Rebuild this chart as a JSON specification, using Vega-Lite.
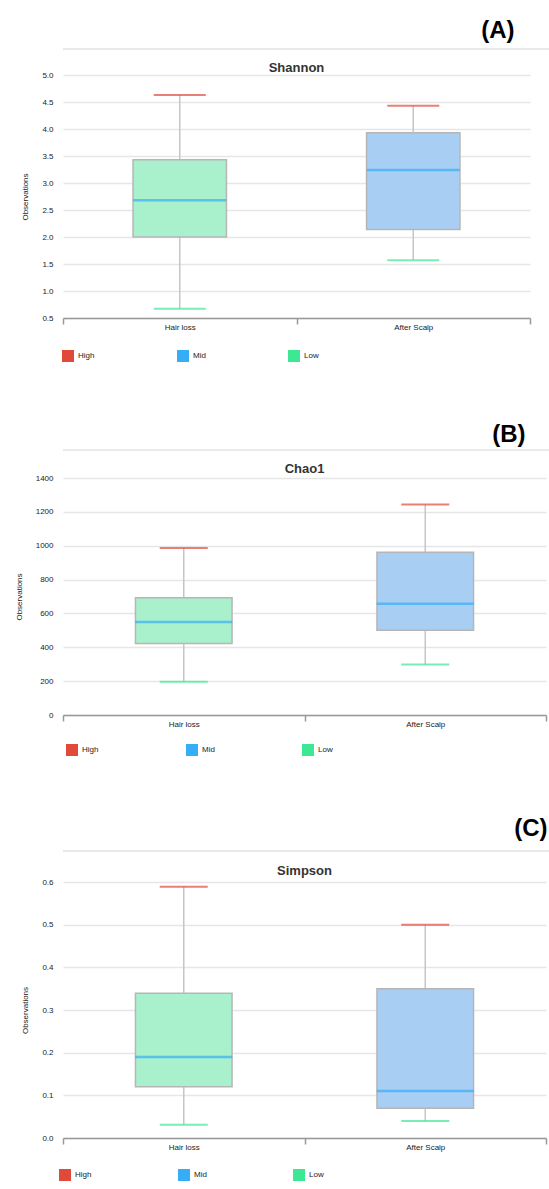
{
  "$schema": "https://vega.github.io/schema/vega-lite/v6.json",
  "background": "white",
  "padding": {"left": 15, "top": 18, "right": 0, "bottom": 0},
  "datasets": {
    "shannon": [
      {"group": "Hair loss", "min": 0.67, "q1": 2.0, "median": 2.68, "q3": 3.43, "max": 4.63},
      {"group": "After  Scalp", "min": 1.57, "q1": 2.14, "median": 3.24, "q3": 3.93, "max": 4.43}
    ],
    "chao1": [
      {"group": "Hair loss", "min": 196, "q1": 422, "median": 549, "q3": 692, "max": 986},
      {"group": "After  Scalp", "min": 298, "q1": 500, "median": 657, "q3": 961, "max": 1243}
    ],
    "simpson": [
      {"group": "Hair loss", "min": 0.031, "q1": 0.12, "median": 0.19, "q3": 0.339, "max": 0.589},
      {"group": "After  Scalp", "min": 0.04, "q1": 0.07, "median": 0.11, "q3": 0.35, "max": 0.5}
    ]
  },
  "spacing": 60,
  "resolve": {"scale": {"x": "independent", "y": "independent", "color": "independent", "fill": "independent"}, "legend": {"color": "independent"}},
  "vconcat": [
    {
      "spacing": 12,
      "resolve": {"scale": {"x": "independent", "y": "independent", "color": "independent", "fill": "independent"}, "legend": {"color": "independent"}},
      "vconcat": [
        {
          "width": 486, "height": 1,
          "data": {"name": "shannon"},
          "mark": {"type": "rule", "color": "#e2e2e2", "strokeWidth": 1},
          "encoding": {"y": {"datum": 1, "type": "quantitative", "scale": {"domain": [0, 1]}, "axis": null}},
          "title": {"text": "(A)", "anchor": "end", "fontSize": 24, "fontWeight": "bold", "color": "#000000", "offset": 6, "dx": -35}
        },
        {
          "width": 467, "height": 243,
          "title": {"text": "Shannon", "offset": -4, "frame": "group"},
          "data": {"name": "shannon"},
          "encoding": {
            "x": {"field": "group", "type": "nominal", "sort": ["Hair loss", "After  Scalp"], "scale": {"paddingInner": 0, "paddingOuter": 0}, "title": null}
          },
          "layer": [
            {"mark": {"type": "rule", "color": "#c6c6c6", "strokeWidth": 1.5},
             "encoding": {"y": {"field": "min", "type": "quantitative", "title": "Observations", "scale": {"domain": [0.5, 5.0], "nice": false, "zero": false}, "axis": {"values": [0.5, 1.0, 1.5, 2.0, 2.5, 3.0, 3.5, 4.0, 4.5, 5.0], "format": ".1f", "tickCount": 20}}, "y2": {"field": "max"}}},
            {"mark": {"type": "bar", "width": {"band": 0.4}, "stroke": "#b6b6b6", "strokeWidth": 1.5},
             "encoding": {"y": {"field": "q1", "type": "quantitative", "title": "Observations"}, "y2": {"field": "q3"}, "fill": {"field": "group", "type": "nominal", "scale": {"domain": ["Hair loss", "After  Scalp"], "range": ["#a9f1cc", "#a9cef3"]}, "legend": null}}},
            {"mark": {"type": "tick", "size": 93, "thickness": 2.5},
             "encoding": {"y": {"field": "median", "type": "quantitative", "title": "Observations"}, "color": {"datum": "Mid", "type": "nominal", "scale": {"domain": ["High", "Mid", "Low"], "range": ["#e04a3a", "#36aef5", "#3de894"]}, "legend": {"orient": "none", "legendX": -1, "legendY": 275, "direction": "horizontal", "title": null, "columnPadding": 82}}}},
            {"mark": {"type": "tick", "size": 52, "thickness": 2},
             "encoding": {"y": {"field": "max", "type": "quantitative", "title": "Observations"}, "color": {"datum": "High", "type": "nominal", "scale": {"domain": ["High", "Mid", "Low"], "range": ["#e04a3a", "#36aef5", "#3de894"]}}}},
            {"mark": {"type": "tick", "size": 52, "thickness": 2},
             "encoding": {"y": {"field": "min", "type": "quantitative", "title": "Observations"}, "color": {"datum": "Low", "type": "nominal", "scale": {"domain": ["High", "Mid", "Low"], "range": ["#e04a3a", "#36aef5", "#3de894"]}}}}
          ]
        }
      ]
    },
    {
      "spacing": 12,
      "resolve": {"scale": {"x": "independent", "y": "independent", "color": "independent", "fill": "independent"}, "legend": {"color": "independent"}},
      "vconcat": [
        {
          "width": 486, "height": 1,
          "data": {"name": "chao1"},
          "mark": {"type": "rule", "color": "#e2e2e2", "strokeWidth": 1},
          "encoding": {"y": {"datum": 1, "type": "quantitative", "scale": {"domain": [0, 1]}, "axis": null}},
          "title": {"text": "(B)", "anchor": "end", "fontSize": 24, "fontWeight": "bold", "color": "#000000", "offset": 3, "dx": -24}
        },
        {
          "width": 483, "height": 237,
          "title": {"text": "Chao1", "offset": -2, "frame": "group"},
          "data": {"name": "chao1"},
          "encoding": {
            "x": {"field": "group", "type": "nominal", "sort": ["Hair loss", "After  Scalp"], "scale": {"paddingInner": 0, "paddingOuter": 0}, "title": null}
          },
          "layer": [
            {"mark": {"type": "rule", "color": "#c6c6c6", "strokeWidth": 1.5},
             "encoding": {"y": {"field": "min", "type": "quantitative", "title": "Observations", "scale": {"domain": [0, 1400], "nice": false}, "axis": {"values": [0, 200, 400, 600, 800, 1000, 1200, 1400], "format": "d", "tickCount": 20}}, "y2": {"field": "max"}}},
            {"mark": {"type": "bar", "width": {"band": 0.4}, "stroke": "#b6b6b6", "strokeWidth": 1.5},
             "encoding": {"y": {"field": "q1", "type": "quantitative", "title": "Observations"}, "y2": {"field": "q3"}, "fill": {"field": "group", "type": "nominal", "scale": {"domain": ["Hair loss", "After  Scalp"], "range": ["#a9f1cc", "#a9cef3"]}, "legend": null}}},
            {"mark": {"type": "tick", "size": 97, "thickness": 2.5},
             "encoding": {"y": {"field": "median", "type": "quantitative", "title": "Observations"}, "color": {"datum": "Mid", "type": "nominal", "scale": {"domain": ["High", "Mid", "Low"], "range": ["#e04a3a", "#36aef5", "#3de894"]}, "legend": {"orient": "none", "legendX": 3, "legendY": 266, "direction": "horizontal", "title": null, "columnPadding": 87}}}},
            {"mark": {"type": "tick", "size": 48, "thickness": 2},
             "encoding": {"y": {"field": "max", "type": "quantitative", "title": "Observations"}, "color": {"datum": "High", "type": "nominal", "scale": {"domain": ["High", "Mid", "Low"], "range": ["#e04a3a", "#36aef5", "#3de894"]}}}},
            {"mark": {"type": "tick", "size": 48, "thickness": 2},
             "encoding": {"y": {"field": "min", "type": "quantitative", "title": "Observations"}, "color": {"datum": "Low", "type": "nominal", "scale": {"domain": ["High", "Mid", "Low"], "range": ["#e04a3a", "#36aef5", "#3de894"]}}}}
          ]
        }
      ]
    },
    {
      "spacing": 13,
      "resolve": {"scale": {"x": "independent", "y": "independent", "color": "independent", "fill": "independent"}, "legend": {"color": "independent"}},
      "vconcat": [
        {
          "width": 486, "height": 1,
          "data": {"name": "simpson"},
          "mark": {"type": "rule", "color": "#e2e2e2", "strokeWidth": 1},
          "encoding": {"y": {"datum": 1, "type": "quantitative", "scale": {"domain": [0, 1]}, "axis": null}},
          "title": {"text": "(C)", "anchor": "end", "fontSize": 24, "fontWeight": "bold", "color": "#000000", "offset": 10, "dx": -2}
        },
        {
          "width": 483, "height": 256,
          "title": {"text": "Simpson", "offset": 0, "frame": "group"},
          "data": {"name": "simpson"},
          "encoding": {
            "x": {"field": "group", "type": "nominal", "sort": ["Hair loss", "After  Scalp"], "scale": {"paddingInner": 0, "paddingOuter": 0}, "title": null}
          },
          "layer": [
            {"mark": {"type": "rule", "color": "#c6c6c6", "strokeWidth": 1.5},
             "encoding": {"y": {"field": "min", "type": "quantitative", "title": "Observations", "scale": {"domain": [0, 0.6], "nice": false}, "axis": {"values": [0, 0.1, 0.2, 0.3, 0.4, 0.5, 0.6], "format": ".1f", "tickCount": 20}}, "y2": {"field": "max"}}},
            {"mark": {"type": "bar", "width": {"band": 0.4}, "stroke": "#b6b6b6", "strokeWidth": 1.5},
             "encoding": {"y": {"field": "q1", "type": "quantitative", "title": "Observations"}, "y2": {"field": "q3"}, "fill": {"field": "group", "type": "nominal", "scale": {"domain": ["Hair loss", "After  Scalp"], "range": ["#a9f1cc", "#a9cef3"]}, "legend": null}}},
            {"mark": {"type": "tick", "size": 97, "thickness": 2.5},
             "encoding": {"y": {"field": "median", "type": "quantitative", "title": "Observations"}, "color": {"datum": "Mid", "type": "nominal", "scale": {"domain": ["High", "Mid", "Low"], "range": ["#e04a3a", "#36aef5", "#3de894"]}, "legend": {"orient": "none", "legendX": -4, "legendY": 287, "direction": "horizontal", "title": null, "columnPadding": 86}}}},
            {"mark": {"type": "tick", "size": 48, "thickness": 2},
             "encoding": {"y": {"field": "max", "type": "quantitative", "title": "Observations"}, "color": {"datum": "High", "type": "nominal", "scale": {"domain": ["High", "Mid", "Low"], "range": ["#e04a3a", "#36aef5", "#3de894"]}}}},
            {"mark": {"type": "tick", "size": 48, "thickness": 2},
             "encoding": {"y": {"field": "min", "type": "quantitative", "title": "Observations"}, "color": {"datum": "Low", "type": "nominal", "scale": {"domain": ["High", "Mid", "Low"], "range": ["#e04a3a", "#36aef5", "#3de894"]}}}}
          ]
        }
      ]
    }
  ],
  "config": {
    "font": "Liberation Sans",
    "view": {"stroke": null},
    "title": {"font": "Liberation Sans", "fontSize": 13, "fontWeight": "bold", "color": "#333333"},
    "axis": {"labelFont": "Liberation Sans", "labelFontSize": 8, "labelColor": "#222222", "titleFont": "Liberation Sans", "titleFontSize": 8, "titleFontWeight": "normal", "titleColor": "#222222"},
    "axisY": {"grid": true, "gridColor": "#e6e6e6", "gridWidth": 1.5, "domain": false, "ticks": false, "labelPadding": 10, "titlePadding": 12},
    "axisX": {"grid": false, "domainColor": "#999999", "domainWidth": 1.5, "tickColor": "#999999", "tickWidth": 1.5, "tickSize": 6, "tickBand": "extent", "labelPadding": -1, "labelAngle": 0},
    "legend": {"labelFont": "Liberation Sans", "labelFontSize": 8, "labelColor": "#222222", "symbolType": "square", "symbolSize": 144, "symbolStrokeWidth": 0, "symbolOpacity": 1, "labelOffset": 4, "padding": 0}
  }
}
